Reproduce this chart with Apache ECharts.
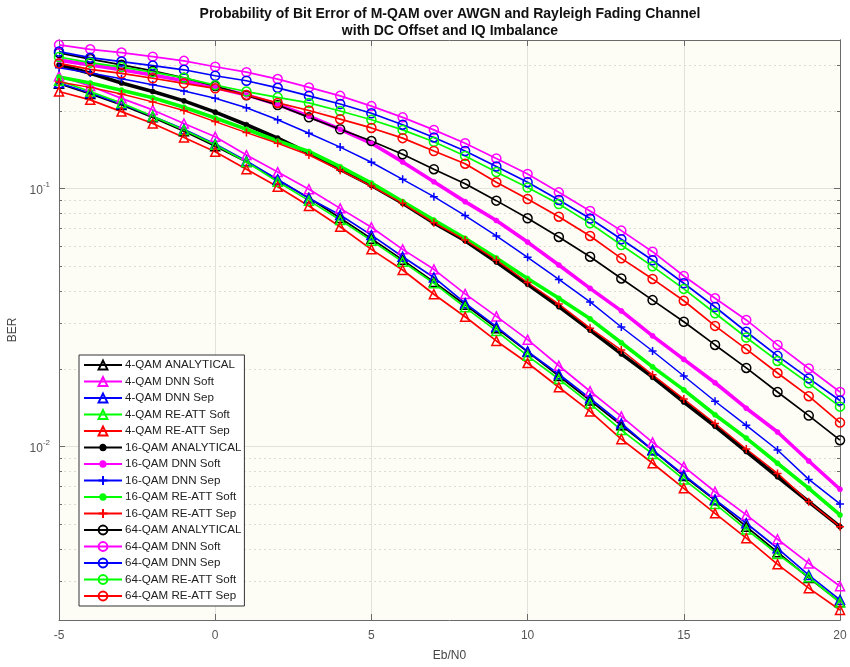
<!DOCTYPE html>
<html><head><meta charset="utf-8">
<script src="https://cdn.jsdelivr.net/npm/echarts@6/dist/echarts.min.js"></script>
<style>html,body{margin:0;padding:0;background:#fff}#c{width:850px;height:667px}</style>
</head><body><div id="c"></div>
<script>
// ---- data ----
const ebn0 = [-5,-4,-3,-2,-1,0,1,2,3,4,5,6,7,8,9,10,11,12,13,14,15,16,17,18,19,20];

const qam4Analytical = [0.255,0.233,0.211,0.189,0.167,0.146,0.127,0.108,0.092,0.077,0.064,0.053,0.0435,0.0355,0.0288,0.0233,0.0188,0.0151,0.0121,0.0097,0.0077,0.0062,0.0049,0.0039,0.0031,0.0025];
const qam4DnnSoft = [0.273,0.250,0.224,0.202,0.179,0.159,0.135,0.116,0.0995,0.0839,0.0709,0.0582,0.0487,0.0391,0.0320,0.0260,0.0206,0.0164,0.0131,0.0104,0.00837,0.00669,0.00544,0.00438,0.00353,0.00288];
const qam4DnnSep = [0.257,0.235,0.213,0.191,0.170,0.149,0.128,0.1086,0.0918,0.0791,0.0661,0.0545,0.0453,0.0360,0.0292,0.0234,0.0191,0.0154,0.0123,0.00971,0.00777,0.00624,0.00505,0.00404,0.00318,0.00255];
const qam4ReAttSoft = [0.262,0.238,0.215,0.191,0.169,0.148,0.127,0.1064,0.0899,0.0756,0.0629,0.0521,0.0430,0.0347,0.0281,0.0225,0.0183,0.0147,0.0116,0.00937,0.00747,0.00600,0.00478,0.00384,0.00312,0.00249];
const qam4ReAttSep = [0.238,0.221,0.199,0.179,0.158,0.139,0.119,0.1018,0.0857,0.0712,0.0582,0.0484,0.0390,0.0319,0.0257,0.0211,0.0170,0.0137,0.0107,0.00863,0.00690,0.00552,0.00442,0.00350,0.00283,0.00233];

const qam16Analytical = [0.302,0.280,0.257,0.238,0.219,0.198,0.177,0.157,0.1375,0.1187,0.1029,0.0878,0.0736,0.0629,0.0520,0.0426,0.0349,0.0283,0.0229,0.0186,0.0149,0.0120,0.00958,0.00765,0.00612,0.00490];
const qam16DnnSoft = [0.315,0.302,0.289,0.276,0.262,0.247,0.231,0.212,0.191,0.170,0.150,0.127,0.1064,0.0891,0.0753,0.0621,0.0506,0.0411,0.0336,0.0269,0.0218,0.0177,0.0141,0.0114,0.0088,0.00684];
const qam16DnnSep = [0.294,0.281,0.267,0.253,0.239,0.224,0.206,0.185,0.164,0.145,0.1266,0.1087,0.0931,0.0787,0.0656,0.0542,0.0445,0.0364,0.0291,0.0235,0.0188,0.0150,0.0121,0.00971,0.00747,0.00600];
const qam16ReAttSoft = [0.271,0.257,0.241,0.225,0.207,0.188,0.170,0.153,0.1394,0.1217,0.1052,0.0891,0.0756,0.0642,0.0539,0.0449,0.0376,0.0313,0.0253,0.0204,0.0166,0.0133,0.0108,0.00863,0.00690,0.00544];
const qam16ReAttSep = [0.259,0.247,0.233,0.217,0.201,0.182,0.165,0.150,0.1351,0.1179,0.1024,0.0878,0.0738,0.0633,0.0529,0.0433,0.0357,0.0288,0.0237,0.0190,0.0153,0.0123,0.00980,0.00788,0.00612,0.00490];

const qam64Analytical = [0.336,0.318,0.302,0.286,0.269,0.250,0.230,0.211,0.189,0.170,0.153,0.136,0.119,0.1045,0.0899,0.0768,0.0650,0.0545,0.0449,0.0370,0.0305,0.0248,0.0202,0.0163,0.0132,0.0106];
const qam64DnnSoft = [0.361,0.347,0.337,0.325,0.313,0.297,0.283,0.266,0.247,0.229,0.209,0.189,0.169,0.150,0.131,0.114,0.0968,0.0820,0.0688,0.0570,0.0459,0.0376,0.0310,0.0248,0.0201,0.0163];
const qam64DnnSep = [0.340,0.322,0.311,0.300,0.289,0.274,0.262,0.246,0.229,0.213,0.196,0.177,0.158,0.140,0.122,0.106,0.0904,0.0766,0.0637,0.0528,0.0430,0.0348,0.0279,0.0225,0.0184,0.0151];
const qam64ReAttSoft = [0.324,0.308,0.296,0.283,0.269,0.252,0.238,0.226,0.215,0.200,0.185,0.169,0.152,0.134,0.116,0.101,0.0872,0.0734,0.0605,0.0500,0.0409,0.0329,0.0265,0.0215,0.0176,0.0143];
const qam64ReAttSep = [0.306,0.290,0.280,0.268,0.256,0.245,0.231,0.215,0.201,0.186,0.172,0.157,0.140,0.125,0.106,0.0912,0.0779,0.0656,0.0537,0.0447,0.0368,0.0294,0.0239,0.0193,0.0157,0.0124];

const seriesNames = [
  '4-QAM ANALYTICAL','4-QAM DNN Soft','4-QAM DNN Sep','4-QAM RE-ATT Soft','4-QAM RE-ATT Sep',
  '16-QAM ANALYTICAL','16-QAM DNN Soft','16-QAM DNN Sep','16-QAM RE-ATT Soft','16-QAM RE-ATT Sep',
  '64-QAM ANALYTICAL','64-QAM DNN Soft','64-QAM DNN Sep','64-QAM RE-ATT Soft','64-QAM RE-ATT Sep'
];
const seriesValues = [
  qam4Analytical, qam4DnnSoft, qam4DnnSep, qam4ReAttSoft, qam4ReAttSep,
  qam16Analytical, qam16DnnSoft, qam16DnnSep, qam16ReAttSoft, qam16ReAttSep,
  qam64Analytical, qam64DnnSoft, qam64DnnSep, qam64ReAttSoft, qam64ReAttSep
];

const xTickValues = [-5, 0, 5, 10, 15, 20];
const yMajorTicks = [0.01, 0.1];
const yMinorTicks = [0.003,0.004,0.005,0.006,0.007,0.008,0.009,0.02,0.03,0.04,0.05,0.06,0.07,0.08,0.09,0.2,0.3];
const yMin = 0.00213, yMax = 0.377;

// ---- styles ----
const colorCycle = ['#000000','#ff00ff','#0000ff','#00ff00','#ff0000'];
// small dot: circle of 60% inside an invisible 10x10 box (moveTo points set the box)
const dotPath = 'path://M0,0M10,10M5,2A3,3,0,1,1,5,8A3,3,0,1,1,5,2Z';
const markerStyles = {
  tri:  { symbol: 'triangle', symbolSize: 9, width: 1.7, hollow: true },
  dot:  { symbol: dotPath, symbolSize: 8.5, width: 3.6, hollow: false },
  plus: { symbol: 'path://M5,0L5,10M0,5L10,5', symbolSize: 8, width: 1.5, hollow: true },
  circ: { symbol: 'circle', symbolSize: 9, width: 1.7, hollow: true }
};
const groupMarkers = [
  ['tri','tri','tri','tri','tri'],
  ['dot','dot','plus','dot','plus'],
  ['circ','circ','circ','circ','circ']
];
const FONT = '"Liberation Sans", Arial, Helvetica, sans-serif';

const series = seriesNames.map((name, i) => {
  const g = Math.floor(i / 5), k = i % 5;
  const st = markerStyles[groupMarkers[g][k]];
  const c = colorCycle[k];
  return {
    name, type: 'line', xAxisIndex: 0, yAxisIndex: 0,
    data: ebn0.map((x, j) => [x, seriesValues[i][j]]),
    symbol: st.symbol, symbolSize: st.symbolSize, showSymbol: true, showAllSymbol: true,
    lineStyle: { color: c, width: st.width },
    itemStyle: st.hollow ? { color: 'rgba(0,0,0,0)', borderColor: c, borderWidth: 1.5 }
                         : { color: c, borderColor: c, borderWidth: 0.5 },
    emphasis: { disabled: true }, animation: false, z: 3
  };
});

const axisLineStyle = { color: '#6a6a6a', width: 1 };
function yAxisDef(position, ticks, len, labels, split) {
  return {
    type: 'log', logBase: 10, min: yMin, max: yMax, position,
    axisLine: { show: true, onZero: false, lineStyle: axisLineStyle },
    axisTick: { show: true, inside: true, length: len, customValues: ticks, lineStyle: axisLineStyle },
    axisLabel: labels ? {
      show: true, customValues: ticks, margin: 9, fontFamily: FONT,
      formatter: v => '{b|10}{s|' + Math.round(Math.log10(v)) + '}',
      rich: {
        b: { fontSize: 12, color: '#555', fontFamily: FONT, verticalAlign: 'bottom', lineHeight: 16 },
        s: { fontSize: 8, color: '#555', fontFamily: FONT, verticalAlign: 'top', lineHeight: 10 }
      }
    } : { show: false },
    splitLine: split || { show: false },
    minorTick: { show: false }, minorSplitLine: { show: false }
  };
}

const option = {
  backgroundColor: '#ffffff',
  animation: false,
  textStyle: { fontFamily: FONT },
  title: {
    text: 'Probability of Bit Error of M-QAM over AWGN and Rayleigh Fading Channel\nwith DC Offset and IQ Imbalance',
    left: 445, top: 0, textAlign: 'center',
    textStyle: { fontSize: 14, fontWeight: 'bold', color: '#111', lineHeight: 17.6, fontFamily: FONT }
  },
  grid: { left: 59, right: 10, top: 40, bottom: 47, show: true, backgroundColor: '#fdfdf5', borderWidth: 0, containLabel: false, outerBoundsMode: 'none' },
  legend: {
    data: seriesNames, orient: 'vertical', left: 79, top: 355,
    itemWidth: 38, itemHeight: 11, itemGap: 4.5,
    padding: [4, 3, 4, 4], backgroundColor: '#ffffff', borderColor: '#333', borderWidth: 1, borderRadius: 0,
    textStyle: { fontSize: 11.6, color: '#222', fontFamily: FONT, padding: [0, 0, 0, -2] },
    selectedMode: false
  },
  xAxis: [
    {
      type: 'value', min: -5, max: 20, interval: 5, position: 'bottom',
      name: 'Eb/N0', nameLocation: 'middle', nameGap: 30,
      nameTextStyle: { fontSize: 12, color: '#444', fontFamily: FONT },
      axisLine: { show: true, onZero: false, lineStyle: axisLineStyle },
      axisTick: { show: true, inside: true, length: 6, lineStyle: axisLineStyle },
      axisLabel: { color: '#555', fontSize: 12, margin: 10, fontFamily: FONT, customValues: xTickValues },
      splitLine: { show: true, lineStyle: { color: '#e2e2dc', width: 1 } }
    },
    {
      type: 'value', min: -5, max: 20, interval: 5, position: 'top',
      axisLine: { show: true, onZero: false, lineStyle: axisLineStyle },
      axisTick: { show: true, inside: true, length: 6, lineStyle: axisLineStyle },
      axisLabel: { show: false }, splitLine: { show: false }
    }
  ],
  yAxis: [
    Object.assign(yAxisDef('left', yMajorTicks, 6, true, { show: true, lineStyle: { color: '#e2e2dc', width: 1 } }), {
      name: 'BER', nameLocation: 'middle', nameGap: 34,
      nameTextStyle: { fontSize: 12, color: '#444', fontFamily: FONT }
    }),
    yAxisDef('left', yMinorTicks, 3, false, { show: true, lineStyle: { color: '#dcdcd6', width: 1, type: [2, 3] } }),
    yAxisDef('right', yMajorTicks, 6, false, null),
    yAxisDef('right', yMinorTicks, 3, false, null)
  ],
  series
};

const chart = echarts.init(document.getElementById('c'), null, { renderer: 'canvas' });
chart.setOption(option);
</script>
</body></html>
